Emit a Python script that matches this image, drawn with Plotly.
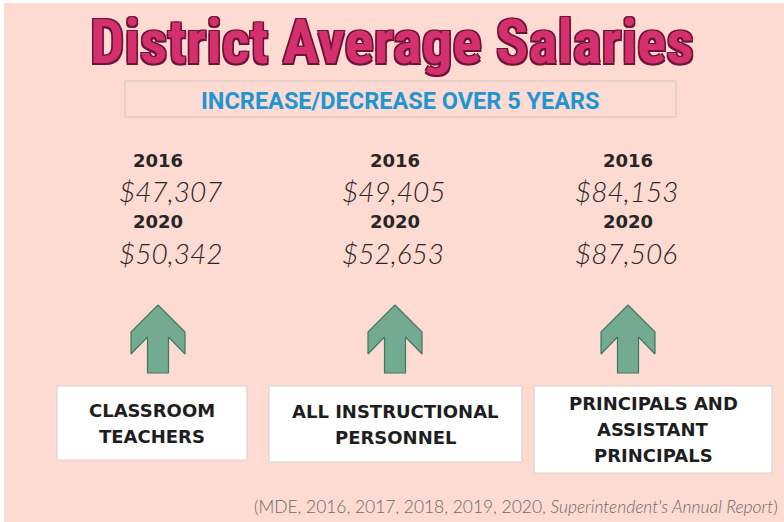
import plotly.graph_objects as go

# ---------------- data ----------------
categories = ["CLASSROOM<br>TEACHERS", "ALL INSTRUCTIONAL<br>PERSONNEL", "PRINCIPALS AND<br>ASSISTANT<br>PRINCIPALS"]
years = ["2016", "2020"]
salary_2016 = [47307, 49405, 84153]
salary_2020 = [50342, 52653, 87506]
title = "District Average Salaries"
subtitle = "INCREASE/DECREASE OVER 5 YEARS"
source_plain = "(MDE, 2016, 2017, 2018, 2019, 2020, "
source_italic = "Superintendent's Annual Report"

# ---------------- layout constants ----------------
W, H = 784, 522
BG = "#FDDAD2"
col_x = [158, 395, 628]          # arrow / year centres
val_x = [170, 393, 626]          # value centres
box_x = [(57, 247), (269, 522), (534, 772)]
box_y = [(386, 460), (386, 462), (386, 473)]
year_y = [160, 221]
val_y = [191, 253]

fig = go.Figure()

shapes = []
# pink background panel
shapes.append(dict(type="rect", xref="x", yref="y", x0=4, y0=3, x1=W, y1=H,
                   fillcolor=BG, line=dict(width=0), layer="below"))
# subtitle box
shapes.append(dict(type="rect", xref="x", yref="y", x0=125, y0=81, x1=676, y1=117,
                   fillcolor="rgba(0,0,0,0)", line=dict(color="#D3C6C3", width=1)))
# category boxes
for (x0, x1), (y0, y1) in zip(box_x, box_y):
    shapes.append(dict(type="rect", xref="x", yref="y", x0=x0, y0=y0, x1=x1, y1=y1,
                       fillcolor="white", line=dict(color="#D8D2D0", width=1.2)))

# arrows (direction from data)
for cx, a, b in zip(col_x, salary_2016, salary_2020):
    up = b >= a
    tip, wing_top, wing_bot, junc, bottom = 305, 332, 354, 337, 373
    hw, sw = 27, 10.5
    if up:
        px = [cx, cx + hw, cx + hw, cx + sw, cx + sw, cx - sw, cx - sw, cx - hw, cx - hw, cx]
        py = [tip, wing_top, wing_bot, junc, bottom, bottom, junc, wing_bot, wing_top, tip]
    else:
        px = [cx, cx + hw, cx + hw, cx + sw, cx + sw, cx - sw, cx - sw, cx - hw, cx - hw, cx]
        py = [bottom, bottom - 27, bottom - 49, bottom - 32, tip, tip, bottom - 32, bottom - 49, bottom - 27, bottom]
    fig.add_trace(go.Scatter(x=px, y=py, mode="lines", fill="toself",
                             fillcolor="#74A992", line=dict(color="#3E7A5C", width=1.2),
                             hoverinfo="skip", showlegend=False))

ann = []
# title
ann.append(dict(x=392, y=42, xref="x", yref="y", text=f"<b>{title}</b>", showarrow=False,
                xanchor="center", yanchor="middle",
                font=dict(family="Liberation Sans Narrow, Roboto Condensed, Liberation Sans", size=61,
                          color="#D4306E",
                          shadow="-1.5px -1.5px 0 #6E1236, 1.5px -1.5px 0 #6E1236, -1.5px 1.5px 0 #6E1236, 1.5px 1.5px 0 #6E1236")))
# subtitle
ann.append(dict(x=400, y=101, xref="x", yref="y", text=f"<b>{subtitle}</b>", showarrow=False,
                xanchor="center", yanchor="middle",
                font=dict(family="Roboto", size=23.5, color="#1E96D3")))

for i in range(len(categories)):
    vals = [salary_2016[i], salary_2020[i]]
    for j, yr in enumerate(years):
        ann.append(dict(x=col_x[i], y=year_y[j], xref="x", yref="y", text=f"<b>{yr}</b>",
                        showarrow=False, xanchor="center", yanchor="middle",
                        font=dict(family="DejaVu Sans", size=18, color="#262626")))
        ann.append(dict(x=val_x[i], y=val_y[j], xref="x", yref="y", text=f"<i>${vals[j]:,}</i>",
                        showarrow=False, xanchor="center", yanchor="middle",
                        font=dict(family="Lato", size=28, color="#262626", weight=300)))
    lines = categories[i].split("<br>")
    (x0, x1), (y0, y1) = box_x[i], box_y[i]
    cy = (y0 + y1) / 2
    n = len(lines)
    for k, ln in enumerate(lines):
        ann.append(dict(x=(x0 + x1) / 2, y=cy + (k - (n - 1) / 2) * 26, xref="x", yref="y",
                        text=f"<b>{ln}</b>", showarrow=False, xanchor="center", yanchor="middle",
                        font=dict(family="DejaVu Sans", size=18, color="#1E1E1E")))

ann.append(dict(x=780, y=506, xref="x", yref="y",
                text=f"{source_plain}<i>{source_italic}</i>)", showarrow=False,
                xanchor="right", yanchor="middle",
                font=dict(family="Lato", size=17.4, color="#6A6A6A", weight=300)))

fig.update_layout(
    width=W, height=H, margin=dict(l=0, r=0, t=0, b=0),
    paper_bgcolor="white", plot_bgcolor="rgba(0,0,0,0)",
    xaxis=dict(range=[0, W], visible=False, fixedrange=True),
    yaxis=dict(range=[H, 0], visible=False, fixedrange=True),
    shapes=shapes, annotations=ann, showlegend=False,
)
fig.write_html("out.html", config={"displayModeBar": False},
               post_script="document.body.style.margin='0';document.body.style.overflow='hidden';")
